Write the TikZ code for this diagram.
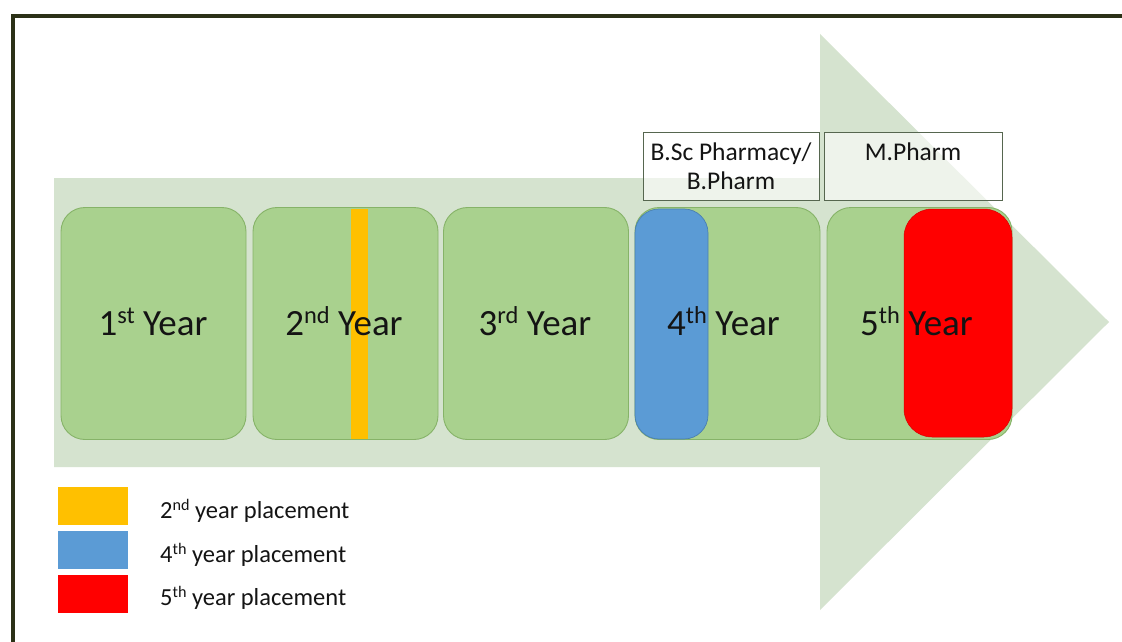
\documentclass[tikz,border=0pt]{standalone}
\usepackage{fontspec}
\usepackage{graphicx}
\setmainfont{Carlito}
\newcommand\supx[1]{\raisebox{0.3em}{\scalebox{0.66}{#1}}}
\definecolor{boxfill}{HTML}{A9D18E}
\definecolor{boxline}{HTML}{86B368}
\definecolor{arrowfill}{HTML}{D5E3CF}
\definecolor{framecol}{HTML}{2B3117}
\definecolor{ybar}{HTML}{FFC000}
\definecolor{bbar}{HTML}{5B9BD5}
\definecolor{bline}{HTML}{4A80B0}
\definecolor{rbar}{HTML}{FF0000}
\definecolor{hline}{HTML}{56664F}
\definecolor{txt}{HTML}{141414}
\begin{document}
\begin{tikzpicture}[x=1pt,y=-1pt,
  framestyle/.style={draw=framecol, line width=4pt},
  yearbox/.style={draw=boxline, fill=boxfill, line width=0.9pt, rounded corners=24pt,
    minimum width=185pt, minimum height=232pt, inner sep=0pt, outer sep=0pt},
  yearlbl/.style={text=txt, font=\fontsize{37}{44}\selectfont, inner sep=0pt, anchor=base},
  hdrbox/.style={draw=hline, line width=0.8pt, fill=white, fill opacity=0.6, text opacity=1,
    text=txt, font=\fontsize{25.5}{29}\selectfont, align=center, inner sep=0pt,
    minimum height=68pt},
  legsq/.style={minimum width=70pt, minimum height=38pt, inner sep=0pt, outer sep=0pt},
  leglbl/.style={text=txt, font=\fontsize{24.5}{29}\selectfont, inner sep=0pt, anchor=base west}]
\useasboundingbox (0,0) rectangle (1122,642);
\fill[white] (0,0) rectangle (1122,642);
\draw[framestyle] (13,644) -- (13,16) -- (1124,16);
% big arrow
\fill[arrowfill] (54,178) -- (820,178) -- (820,34) -- (1109,322) -- (820,610) -- (820,467) -- (54,467) -- cycle;
% year boxes
\node[yearbox] (y1) at (153.5,323.5) {};
\node[yearbox] (y2) at (345.5,323.5) {};
\node[yearbox] (y3) at (536,323.5) {};
\node[yearbox] (y4) at (727.5,323.5) {};
\node[yearbox] (y5) at (919.5,323.5) {};
% header boxes
\node[hdrbox, minimum width=176pt] (bsc) at (731,166) {B.Sc Pharmacy/\\B.Pharm};
\node[hdrbox, minimum width=178pt] (mph) at (913,166) {M.Pharm\\\phantom{B}};
% placement bars
\node[fill=ybar, minimum width=17pt, minimum height=230pt, inner sep=0pt] (yb) at (359.5,324) {};
\node[fill=bbar, draw=bline, line width=0.7pt, rounded corners=24pt, minimum width=73pt, minimum height=230pt, inner sep=0pt] (bb) at (671.5,324) {};
\node[fill=rbar, draw=rbar!85!black, line width=0.5pt, rounded corners=28pt, minimum width=108pt, minimum height=228pt, inner sep=0pt] (rb) at (958,323) {};
% year labels
\node[yearlbl] (l1) at (153,335) {1\supx{st} Year};
\node[yearlbl] (l2) at (344,335) {2\supx{nd} Year};
\node[yearlbl] (l3) at (535,335) {3\supx{rd} Year};
\node[yearlbl] (l4) at (723.5,335) {4\supx{th} Year};
\node[yearlbl] (l5) at (916.5,335) {5\supx{th} Year};
% legend
\node[legsq, fill=ybar] (k2) at (93,505.5) {};
\node[legsq, fill=bbar] (k4) at (93,549.5) {};
\node[legsq, fill=rbar] (k5) at (93,593.5) {};
\node[leglbl] (t2) at (160,518) {2\supx{nd} year placement};
\node[leglbl] (t4) at (160,562) {4\supx{th} year placement};
\node[leglbl] (t5) at (160,605) {5\supx{th} year placement};
\end{tikzpicture}
\end{document}
